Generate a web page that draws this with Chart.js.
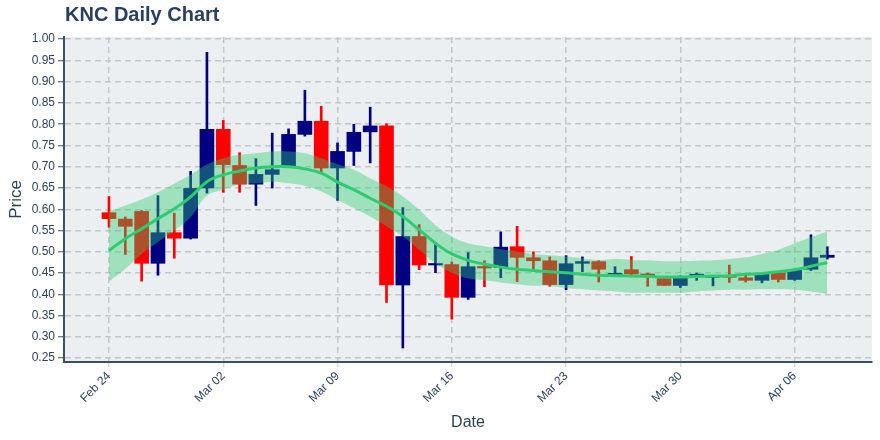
<!DOCTYPE html>
<html>
<head>
<meta charset="utf-8">
<script src="https://cdn.jsdelivr.net/npm/chart.js@4.4.1/dist/chart.umd.min.js"></script>
<style>
  body { margin: 0; background: #fff; }
  #wrap { position: relative; width: 880px; height: 440px; }
  #title {
    position: absolute; left: 65px; top: 3px;
    font: bold 20px "Liberation Sans", Arial, sans-serif;
    color: #2a3f5f;
  }
  canvas { position: absolute; left: 0; top: 0; }
</style>
</head>
<body>
<div id="wrap">
  <canvas id="chart" width="880" height="440"></canvas>
  <div id="title">KNC Daily Chart</div>
</div>
<script>
// Feb 24 .. Apr 08 (2020), one entry per day
const days = ["Feb 24","Feb 25","Feb 26","Feb 27","Feb 28","Feb 29","Mar 01","Mar 02","Mar 03","Mar 04",
  "Mar 05","Mar 06","Mar 07","Mar 08","Mar 09","Mar 10","Mar 11","Mar 12","Mar 13","Mar 14",
  "Mar 15","Mar 16","Mar 17","Mar 18","Mar 19","Mar 20","Mar 21","Mar 22","Mar 23","Mar 24",
  "Mar 25","Mar 26","Mar 27","Mar 28","Mar 29","Mar 30","Mar 31","Apr 01","Apr 02","Apr 03",
  "Apr 04","Apr 05","Apr 06","Apr 07","Apr 08"];

const open  = [0.592,0.577,0.595,0.473,0.545,0.532,0.650,0.788,0.703,0.659,
  0.682,0.701,0.776,0.807,0.697,0.736,0.782,0.796,0.422,0.536,
  0.469,0.470,0.393,0.465,0.463,0.512,0.486,0.479,0.423,0.473,
  0.477,0.446,0.458,0.448,0.437,0.421,0.444,0.440,0.443,0.439,
  0.433,0.451,0.435,0.459,0.487];
const high  = [0.630,0.582,0.597,0.632,0.591,0.689,0.969,0.809,0.733,0.719,
  0.779,0.789,0.880,0.842,0.756,0.800,0.840,0.801,0.604,0.564,
  0.521,0.476,0.498,0.479,0.547,0.560,0.500,0.488,0.491,0.488,
  0.479,0.465,0.489,0.450,0.437,0.444,0.450,0.443,0.469,0.446,
  0.449,0.454,0.459,0.540,0.512];
const low   = [0.558,0.494,0.431,0.445,0.485,0.530,0.638,0.640,0.640,0.609,
  0.650,0.699,0.772,0.688,0.621,0.703,0.709,0.381,0.274,0.458,
  0.451,0.342,0.388,0.418,0.439,0.430,0.459,0.419,0.411,0.453,
  0.429,0.446,0.446,0.419,0.421,0.416,0.433,0.420,0.428,0.429,
  0.427,0.429,0.433,0.456,0.483];
const close = [0.578,0.560,0.473,0.545,0.532,0.649,0.788,0.705,0.659,0.682,
  0.693,0.776,0.807,0.697,0.736,0.781,0.796,0.422,0.536,0.469,
  0.471,0.393,0.465,0.462,0.511,0.487,0.479,0.423,0.472,0.477,
  0.459,0.448,0.448,0.444,0.421,0.438,0.446,0.442,0.440,0.433,
  0.449,0.435,0.458,0.486,0.492];

// smoothed trend and its band
const trend = [0.503,0.531,0.554,0.578,0.601,0.629,0.665,0.681,0.690,0.697,
  0.700,0.700,0.695,0.685,0.664,0.646,0.626,0.607,0.583,0.552,
  0.520,0.495,0.480,0.471,0.464,0.459,0.456,0.453,0.451,0.447,
  0.445,0.444,0.443,0.442,0.441,0.441,0.442,0.443,0.444,0.447,
  0.449,0.453,0.458,0.466,0.475];
const upper = [0.595,0.609,0.623,0.640,0.660,0.681,0.705,0.720,0.728,0.732,
  0.736,0.736,0.732,0.720,0.706,0.693,0.673,0.654,0.630,0.599,
  0.563,0.536,0.520,0.513,0.506,0.501,0.495,0.492,0.489,0.485,
  0.481,0.483,0.481,0.480,0.478,0.478,0.479,0.480,0.483,0.487,
  0.495,0.505,0.520,0.534,0.548];
const lower = [0.430,0.460,0.495,0.523,0.550,0.582,0.632,0.646,0.658,0.661,
  0.665,0.661,0.655,0.642,0.622,0.603,0.583,0.560,0.536,0.505,
  0.473,0.451,0.438,0.433,0.428,0.424,0.420,0.419,0.415,0.412,
  0.409,0.407,0.404,0.404,0.404,0.404,0.407,0.409,0.411,0.411,
  0.412,0.412,0.411,0.407,0.401];

const tickDays = [0, 7, 14, 21, 28, 35, 42];
const tickLabels = ["Feb 24","Mar 02","Mar 09","Mar 16","Mar 23","Mar 30","Apr 06"];

const UP = "#000080";
const DOWN = "#ff0000";
const colors = close.map((c, i) => c >= open[i] ? UP : DOWN);

const font = { family: "'Liberation Sans', Arial, sans-serif", size: 12 };
const textColor = "#2a3f5f";
const axisColor = "#3d4f63";

const bgPlugin = {
  id: "plotBg",
  beforeDraw(chart) {
    const { ctx, chartArea: a } = chart;
    ctx.save();
    ctx.fillStyle = "#eceff1";
    ctx.fillRect(a.left, a.top, a.right - a.left, a.bottom - a.top);
    ctx.restore();
  }
};

new Chart(document.getElementById("chart"), {
  type: "bar",
  data: {
    datasets: [
      {
        type: "line",
        data: trend.map((v, i) => ({ x: i, y: v })),
        borderColor: "#2ecc71",
        borderWidth: 3,
        pointRadius: 0,
        tension: 0.4,
        order: 0
      },
      {
        type: "line",
        data: lower.map((v, i) => ({ x: i, y: v })),
        borderWidth: 0,
        borderColor: "rgba(0,0,0,0)",
        pointRadius: 0,
        tension: 0.4,
        fill: false,
        order: 1
      },
      {
        type: "line",
        data: upper.map((v, i) => ({ x: i, y: v })),
        borderWidth: 0,
        borderColor: "rgba(0,0,0,0)",
        backgroundColor: "rgba(46,204,113,0.4)",
        pointRadius: 0,
        tension: 0.4,
        fill: "-1",
        order: 1
      },
      {
        data: open.map((o, i) => ({ x: i, y: [o, close[i]] })),
        backgroundColor: colors,
        barThickness: 14,
        minBarLength: 1.5,
        grouped: false,
        order: 2
      },
      {
        data: low.map((l, i) => ({ x: i, y: [l, high[i]] })),
        backgroundColor: colors,
        barThickness: 2,
        grouped: false,
        order: 3
      }
    ]
  },
  options: {
    responsive: false,
    animation: false,
    layout: { padding: { top: 37, right: 8, left: 0, bottom: 0 } },
    plugins: {
      legend: { display: false },
      tooltip: { enabled: false }
    },
    scales: {
      x: {
        type: "linear",
        min: -2.756,
        max: 46.74,
        offset: false,
        afterBuildTicks(axis) { axis.ticks = tickDays.map(v => ({ value: v })); },
        afterFit(scale) { scale.height = 78; },
        ticks: {
          autoSkip: false,
          minRotation: 45,
          maxRotation: 45,
          padding: 2,
          color: textColor,
          font: font,
          callback: (v) => tickLabels[tickDays.indexOf(v)]
        },
        grid: {
          color: "#c4c7ca",
          lineWidth: 1.5,
          offset: false,
          tickLength: 5,
          tickColor: "#c4c7ca",
          tickWidth: 1
        },
        border: { display: true, color: axisColor, width: 2, dash: [6, 4] },
        title: {
          display: true, text: "Date", color: textColor,
          font: { family: font.family, size: 16 },
          padding: { top: 0, bottom: 8 }
        }
      },
      y: {
        min: 0.241,
        max: 1.005,
        afterFit(scale) { scale.width = 64; },
        ticks: {
          stepSize: 0.05,
          includeBounds: false,
          padding: 3,
          color: textColor,
          font: font,
          callback: (v) => v.toFixed(2)
        },
        grid: {
          color: "#c4c7ca",
          lineWidth: 1.5,
          tickLength: 6,
          tickColor: axisColor,
          tickWidth: 1
        },
        border: { display: true, color: axisColor, width: 2, dash: [6, 4] },
        title: {
          display: true, text: "Price", color: textColor,
          font: { family: font.family, size: 17 },
          padding: { top: 6, bottom: 0 }
        }
      }
    }
  },
  plugins: [bgPlugin]
});
</script>
</body>
</html>
